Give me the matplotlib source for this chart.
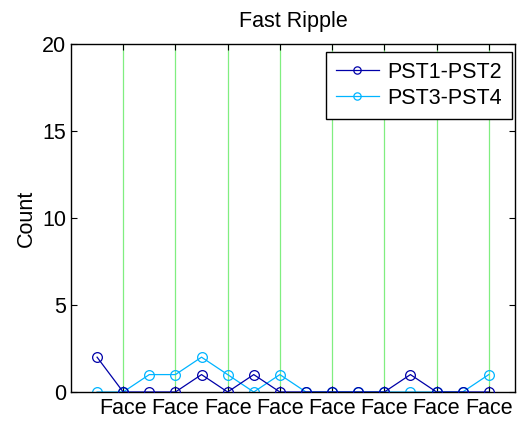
import matplotlib
matplotlib.use("Agg")
import matplotlib.pyplot as plt

x = list(range(1, 17))
pst12 = [2, 0, 0, 0, 1, 0, 1, 0, 0, 0, 0, 0, 1, 0, 0, 0]
pst34 = [0, 0, 1, 1, 2, 1, 0, 1, 0, 0, 0, 0, 0, 0, 0, 1]
tick_pos = [2, 4, 6, 8, 10, 12, 14, 16]
tick_labels = ["Face"] * 8
yticks = [0, 5, 10, 15, 20]

plt.rcParams['font.family'] = ['Liberation Sans', 'DejaVu Sans']

fig = plt.figure(figsize=(5.18, 4.23), dpi=100)
ax = fig.add_axes([0.137, 0.0733, 0.857, 0.823])

for p in tick_pos:
    ax.plot([p, p], [0, 20], color='#80ee80', lw=0.9, zorder=1)

ax.plot(x, pst12, '-o', color='#0000a8', mfc='none', ms=7, lw=0.9, mew=0.9, label='PST1-PST2', zorder=3)
ax.plot(x, pst34, '-o', color='#00b4ff', mfc='none', ms=7, lw=0.9, mew=0.9, label='PST3-PST4', zorder=2)

ax.set_xlim(0, 17)
ax.set_ylim(0, 20)
ax.set_xticks(tick_pos)
ax.set_xticklabels(tick_labels, fontsize=15.5)
ax.set_yticks(yticks)
ax.tick_params(axis='y', labelsize=15.5, direction='in', right=True, length=4)
ax.tick_params(axis='x', direction='in', top=True, length=4, pad=4)
ax.set_ylabel('Count', fontsize=15.5)
ax.set_title('Fast Ripple', fontsize=15.5, pad=12)
for s in ax.spines.values():
    s.set_linewidth(1.0)

leg = ax.legend(loc='upper right', bbox_to_anchor=(0.993, 0.977), fontsize=15.5,
                fancybox=False, edgecolor='black', framealpha=1, borderaxespad=0,
                handlelength=2.0, borderpad=0.45, labelspacing=0.25,
                handletextpad=0.4, markerscale=0.75)
leg.get_frame().set_linewidth(1.0)

fig.savefig('out.png', dpi=100)
